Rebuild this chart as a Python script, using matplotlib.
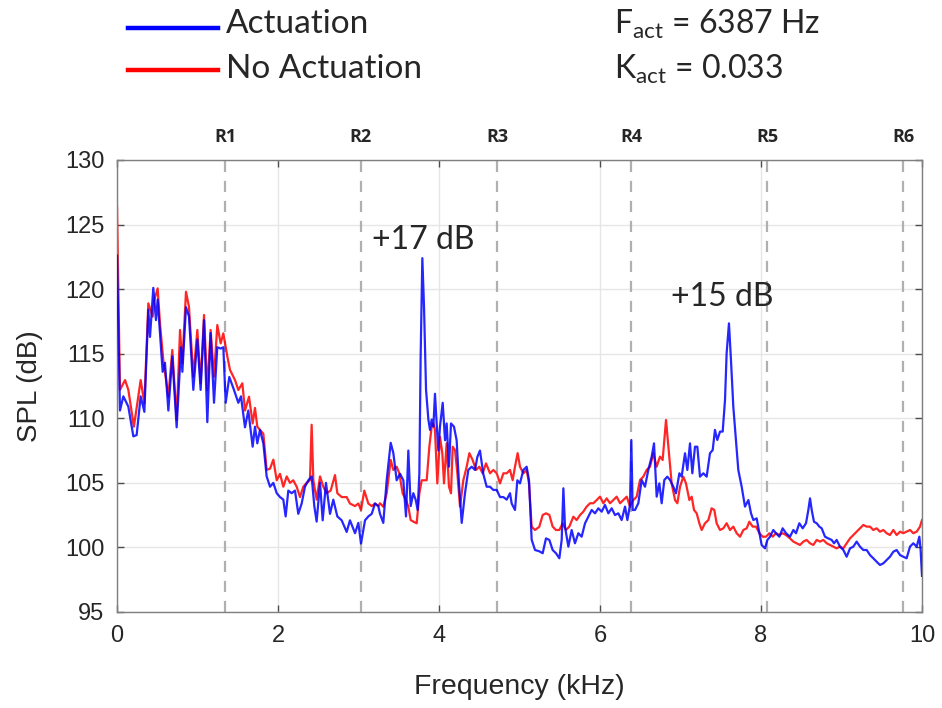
import matplotlib
matplotlib.use("Agg")
import matplotlib.pyplot as plt

# ---------------- data ----------------
freq_act = [0.0, 0.037, 0.079, 0.141, 0.203, 0.244, 0.294, 0.34, 0.389, 0.41, 0.451, 0.484, 0.505,
            0.534, 0.567, 0.596, 0.638, 0.687, 0.741, 0.795, 0.812, 0.857, 0.894, 0.948, 0.998,
            1.039, 1.081, 1.122, 1.163, 1.205, 1.246, 1.288, 1.321, 1.35, 1.395, 1.453, 1.507,
            1.54, 1.59, 1.631,
            1.685, 1.714, 1.743, 1.776, 1.818, 1.859, 1.901, 1.942, 1.984, 2.025, 2.066, 2.095,
            2.128, 2.17, 2.211, 2.252, 2.294, 2.335, 2.377, 2.418, 2.451, 2.48, 2.522, 2.555,
            2.596, 2.646, 2.687, 2.737, 2.791, 2.853, 2.894, 2.957, 2.998, 3.031, 3.081, 3.122,
            3.164, 3.205, 3.246,
            3.267, 3.308, 3.35, 3.4, 3.433, 3.474, 3.516, 3.557, 3.59, 3.619, 3.648, 3.681, 3.71,
            3.735, 3.756, 3.772, 3.793, 3.814, 3.839, 3.868, 3.888, 3.909, 3.93, 3.95, 3.971,
            3.992, 4.012, 4.046, 4.075, 4.095, 4.124, 4.149, 4.186, 4.219, 4.248, 4.282, 4.323,
            4.364, 4.406, 4.447, 4.476, 4.509, 4.55, 4.592, 4.634, 4.675, 4.717, 4.758, 4.8,
            4.841, 4.882, 4.903, 4.944, 4.973, 5.006, 5.048, 5.089, 5.118, 5.151, 5.193, 5.246,
            5.288, 5.329, 5.371, 5.412, 5.453, 5.495, 5.524, 5.545, 5.565, 5.607, 5.648, 5.689,
            5.731, 5.772, 5.814, 5.855, 5.897, 5.938, 5.979, 6.021, 6.062, 6.104, 6.145, 6.186,
            6.228, 6.269, 6.311, 6.34, 6.373, 6.389, 6.406, 6.435, 6.476, 6.518, 6.559, 6.6,
            6.642, 6.671, 6.704, 6.737, 6.766, 6.799, 6.836, 6.87,
            6.911, 6.944, 6.986, 7.014, 7.056, 7.085, 7.118, 7.147, 7.18, 7.209, 7.242, 7.284,
            7.325, 7.366, 7.4, 7.428, 7.457, 7.491, 7.524, 7.553, 7.573, 7.602, 7.627, 7.656,
            7.689, 7.718, 7.76, 7.801, 7.843, 7.876, 7.905, 7.946, 7.98, 8.008, 8.05, 8.079,
            8.112, 8.153, 8.186, 8.228, 8.269, 8.311,
            8.36, 8.402, 8.435, 8.476, 8.518, 8.559, 8.588, 8.609, 8.63, 8.658, 8.692, 8.725,
            8.754, 8.795, 8.836, 8.878, 8.907, 8.94, 8.981, 9.023, 9.064, 9.106, 9.147, 9.188,
            9.23, 9.271, 9.313, 9.354, 9.395, 9.437, 9.478, 9.52, 9.561, 9.602, 9.644, 9.685,
            9.727, 9.768, 9.809, 9.851, 9.892, 9.934, 9.967, 9.983, 10.0]
spl_act = [122.6, 110.6, 111.7, 110.9, 108.6, 108.7, 111.7, 110.5, 118.4, 116.3, 120.1, 117.6, 119.2,
           116.6, 113.6, 114.3, 110.6, 114.8, 109.3, 115.5, 113.6, 118.6, 117.9, 112.2, 116.1,
           112.2, 117.6, 109.7, 116.6, 111.2, 115.5, 115.4, 115.5, 111.2, 113.2, 112.2, 111.2,
           111.7, 109.3, 110.6,
           107.8, 109.35, 108.06, 109.1, 108.06, 105.5, 104.7, 105.0, 104.2, 103.9, 103.7, 102.4,
           104.4, 104.2, 104.4, 102.6, 103.4, 104.7, 105.2, 105.5, 103.2, 102.0, 105.0, 102.1,
           105.0, 102.6, 103.7, 102.4, 102.1, 101.2, 102.1, 101.1, 101.9, 100.3, 102.1, 102.4,
           102.6, 103.4, 103.2,
           102.6, 101.9, 105.2, 108.1, 107.3, 105.2, 105.7, 105.2, 102.4, 107.5, 103.2, 104.2, 103.7,
           102.9, 105.7, 114.8, 122.4, 118.6, 112.2, 109.9, 109.1, 109.9, 109.35, 111.9, 109.6,
           107.5, 109.35, 111.2, 108.3, 109.6, 106.25, 109.6, 109.35, 108.3, 105.0, 101.9, 104.2,
           106.0, 106.25, 106.0, 107.0, 107.5, 105.7, 104.7, 104.7, 104.45, 104.45, 103.9, 103.9,
           103.7, 104.2, 103.4, 102.9, 105.2, 104.96, 106.0, 106.25, 105.2, 100.6, 99.8, 99.7,
           99.55, 100.7, 100.58, 99.8, 99.55, 99.16, 100.58, 104.58, 101.61, 100.06, 101.35, 100.32,
           101.1, 100.83, 101.87, 102.38, 102.9, 102.64, 103.03, 102.77, 103.29, 102.64, 103.03, 102.51,
           102.64, 102.12, 103.16, 102.12, 103.29, 108.32, 102.9, 102.9, 103.42, 105.22, 104.7, 106.0,
           107.03, 108.06, 103.93, 104.96, 103.42, 105.22, 105.48, 105.22,
           104.7, 104.19, 105.74, 105.48, 107.29, 106.0, 108.06, 105.74, 107.8, 107.8, 105.48, 105.74,
           105.48, 107.29, 107.54, 109.1, 108.32, 108.97, 108.97, 111.42, 115.03, 117.35, 114.51, 110.9,
           108.32, 106.0, 104.7, 103.16, 103.67, 102.64, 102.12, 102.25, 101.1, 100.19, 99.93, 100.58,
           100.83, 101.35, 101.1, 100.83, 101.48, 101.1,
           100.83, 101.35, 101.1, 101.87, 101.48, 101.87, 102.9, 103.8, 102.9, 101.99, 101.87, 101.61,
           101.48, 100.83, 100.7, 100.58, 100.32, 100.58, 100.06, 99.8, 99.28, 99.93, 100.06, 100.45,
           100.06, 99.8, 99.8, 99.41, 99.16, 98.89, 98.64, 98.77, 99.03, 99.28, 99.67, 99.8,
           99.41, 99.28, 99.16, 100.06, 100.32, 100.06, 100.83, 99.8, 97.8]

freq_noact = [0.0, 0.037, 0.1, 0.141, 0.21, 0.294, 0.34, 0.389, 0.443, 0.464, 0.505, 0.534, 0.575,
              0.638, 0.687, 0.741, 0.783, 0.812, 0.857, 0.894, 0.948, 0.998, 1.039, 1.081, 1.122,
              1.163, 1.205, 1.246, 1.288, 1.321, 1.371, 1.404, 1.466, 1.507, 1.557, 1.59, 1.64,
              1.685, 1.714, 1.743, 1.776, 1.818, 1.859, 1.901, 1.942, 1.984, 2.025, 2.066, 2.108,
              2.149, 2.19, 2.232, 2.273, 2.314, 2.356, 2.397, 2.418, 2.439, 2.48, 2.522, 2.563,
              2.604, 2.654, 2.708, 2.737, 2.791, 2.853, 2.894, 2.957, 2.998, 3.031, 3.072, 3.122,
              3.164, 3.205, 3.246,
              3.267, 3.308, 3.35, 3.4, 3.433, 3.474, 3.507, 3.548, 3.59, 3.619, 3.648, 3.681, 3.723,
              3.756, 3.785, 3.826, 3.847, 3.88, 3.909, 3.93, 3.95, 3.979, 4.012, 4.041, 4.062,
              4.095, 4.124, 4.149, 4.17, 4.199, 4.228, 4.261, 4.302, 4.344, 4.377, 4.418, 4.46,
              4.501, 4.542, 4.584, 4.634, 4.675, 4.717, 4.758, 4.8, 4.841, 4.882, 4.915, 4.944,
              4.977, 5.006, 5.048, 5.089, 5.118, 5.151, 5.193, 5.246,
              5.288, 5.329, 5.371, 5.412, 5.453, 5.495, 5.536, 5.577, 5.619, 5.669, 5.71, 5.752,
              5.793, 5.834, 5.876, 5.917, 5.959, 6.0, 6.042, 6.083, 6.124, 6.166, 6.207, 6.249,
              6.29, 6.332, 6.373, 6.414, 6.456, 6.497, 6.538, 6.58, 6.621, 6.663, 6.704,
              6.745, 6.778, 6.82, 6.849, 6.89, 6.932, 6.961, 6.994, 7.035, 7.068, 7.11, 7.139,
              7.168, 7.201, 7.234, 7.263, 7.304, 7.346, 7.387, 7.42, 7.449, 7.491, 7.532, 7.573,
              7.615, 7.656, 7.698, 7.739, 7.781, 7.822, 7.855, 7.897, 7.938, 7.98, 8.021, 8.062,
              8.104, 8.145, 8.186, 8.228, 8.269, 8.311,
              8.36, 8.402, 8.443, 8.484, 8.526, 8.567, 8.609, 8.65, 8.692, 8.733, 8.774, 8.816,
              8.857, 8.898, 8.94, 8.981, 9.023, 9.064, 9.106, 9.147, 9.188, 9.23, 9.271, 9.313,
              9.354, 9.395, 9.437, 9.478, 9.52, 9.561, 9.602, 9.644, 9.685, 9.727, 9.768, 9.809,
              9.851, 9.892, 9.934, 9.975, 10.0]
spl_noact = [126.4, 112.2, 112.96, 112.2, 109.35, 112.96, 111.16, 118.9, 117.87, 119.16, 120.06, 117.35, 114.51,
             111.67, 115.29, 109.87, 116.84, 114.26, 119.8, 118.64, 113.22, 116.84, 112.71, 118.0, 112.19,
             116.84, 113.22, 117.22, 115.8, 116.58, 114.77, 113.74, 112.96, 112.19, 112.71, 110.6, 111.67,
             109.6, 110.8, 109.35, 109.1, 108.8, 106.0, 106.1, 106.8, 105.2, 105.7, 104.7, 105.5,
             105.0, 105.2, 104.7, 103.9, 104.7, 105.0, 105.2, 109.5, 105.2, 103.7, 105.5, 104.7,
             104.2, 104.4, 105.6, 104.2, 103.9, 103.9, 103.4, 103.2, 103.4, 102.9, 104.4, 103.4,
             103.2, 103.4, 103.2,
             103.42, 103.15, 104.19, 106.77, 106.0, 106.25, 105.74, 104.19, 103.67, 103.15, 102.12, 102.0, 101.87,
             104.19, 105.2, 105.2, 105.2, 107.8, 109.35, 109.61, 109.1, 104.96, 108.58, 107.3, 104.96,
             108.06, 104.7, 104.19, 107.8, 107.54, 105.74, 103.15, 105.2, 106.25, 107.3, 106.77, 106.0,
             106.25, 105.74, 106.51, 105.74, 106.0, 105.74, 104.96, 105.74, 105.74, 106.0, 105.2, 106.25,
             107.3, 106.25, 105.74, 106.0, 104.96, 101.6, 101.35, 101.6,
             102.51, 102.64, 102.51, 101.61, 101.35, 101.35, 101.87, 101.35, 101.61, 102.38, 102.12, 102.51,
             102.77, 103.16, 103.42, 103.42, 103.67, 103.93, 103.42, 103.8, 103.42, 103.67, 103.93, 103.42,
             103.67, 103.93, 103.16, 103.67, 103.93, 105.22, 105.48, 106.0, 106.25, 107.29, 106.25,
             107.03, 106.77, 109.87, 107.8, 104.96, 103.67, 103.42, 104.7, 105.48, 104.96, 103.67, 103.93,
             102.9, 102.64, 101.87, 101.35, 101.87, 102.12, 103.03, 102.9, 101.87, 101.35, 101.48, 101.87,
             101.35, 101.61, 101.1, 100.83, 101.35, 101.48, 101.99, 101.61, 101.61, 101.1, 100.83, 100.83,
             101.1, 100.83, 101.1, 100.96, 101.1, 100.96,
             100.7, 100.45, 100.32, 100.19, 100.45, 100.58, 100.32, 100.19, 100.58, 100.45, 100.58, 100.32,
             100.19, 100.06, 99.93, 100.06, 99.93, 100.32, 100.7, 100.96, 101.22, 101.48, 101.74, 101.61,
             101.61, 101.35, 101.48, 101.22, 101.35, 101.1, 100.96, 101.35, 100.96, 101.22, 101.1, 101.22,
             101.35, 101.1, 101.22, 101.61, 102.12]

region_labels = ["R1", "R2", "R3", "R4", "R5", "R6"]
region_freqs = [1.342, 3.031, 4.72, 6.387, 8.075, 9.764]

x_ticks = [0, 2, 4, 6, 8, 10]
y_ticks = [95, 100, 105, 110, 115, 120, 125, 130]

annotations = [("+17 dB", 3.81, 123.8), ("+15 dB", 7.52, 119.4)]

# ---------------- figure ----------------
TXT = "#262626"
plt.rcParams["mathtext.default"] = "regular"
fig = plt.figure(figsize=(9.42, 7.08), dpi=100)
ax = fig.add_axes([117 / 942, 1 - 612 / 708, (922 - 117) / 942, (612 - 160) / 708])

ax.set_xlim(0, 10)
ax.set_ylim(95, 130)
ax.set_xticks(x_ticks)
ax.set_yticks(y_ticks)
ax.grid(True, color="#e6e6e6", lw=1.0, zorder=0)
ax.set_axisbelow(True)

for f in region_freqs:
    ax.axvline(f, color="#b0b0b0", lw=1.6, ls=(0, (5, 4)), zorder=1)

ax.plot(freq_noact, spl_noact, color=(1, 0, 0), lw=1.6, alpha=0.85, zorder=2)
ax.plot(freq_act, spl_act, color=(0, 0, 1), lw=1.6, alpha=0.85, zorder=3)

for s in ax.spines.values():
    s.set_color("#7f7f7f")
    s.set_linewidth(1.0)
ax.tick_params(direction="in", top=True, right=True, length=5, width=1.0,
               color="#4d4d4d", labelsize=17, labelcolor=TXT, pad=9)
for lab in ax.get_xticklabels() + ax.get_yticklabels():
    lab.set_family("Liberation Sans")

ax.set_xlabel("Frequency (kHz)", fontsize=20.5, color=TXT, family="Liberation Sans", labelpad=20)
ax.set_ylabel("SPL (dB)", fontsize=20, color=TXT, family="Liberation Sans", labelpad=16)

# region labels above the axes
for lab, f in zip(region_labels, region_freqs):
    ax.text(f, 1.05, lab, transform=ax.get_xaxis_transform(), ha="center", va="center",
            fontsize=13, fontweight="bold", color=TXT, family="Open Sans")

# peak annotations
for txt, fx, fy in annotations:
    ax.text(fx, fy, txt, ha="center", va="center", fontsize=23, color=TXT, family="Lato")

# legend-like header
fig.lines.append(plt.Line2D([128 / 942, 218 / 942], [1 - 28 / 708, 1 - 28 / 708],
                            transform=fig.transFigure, color=(0, 0, 1), lw=3.2))
fig.lines.append(plt.Line2D([128 / 942, 218 / 942], [1 - 70 / 708, 1 - 70 / 708],
                            transform=fig.transFigure, color=(1, 0, 0), lw=3.2))
fig.text(226 / 942, 1 - 24 / 708, "Actuation", fontsize=24, color=TXT, family="Lato", va="center")
fig.text(226 / 942, 1 - 69 / 708, "No Actuation", fontsize=24, color=TXT, family="Lato", va="center")
fig.text(614 / 942, 1 - 24 / 708, r"F$_{act}$ = 6387 Hz", fontsize=23, color=TXT, family="Lato", va="center")
fig.text(614 / 942, 1 - 69 / 708, r"K$_{act}$ = 0.033", fontsize=23, color=TXT, family="Lato", va="center")

fig.savefig("out.png", dpi=100, facecolor="white")
